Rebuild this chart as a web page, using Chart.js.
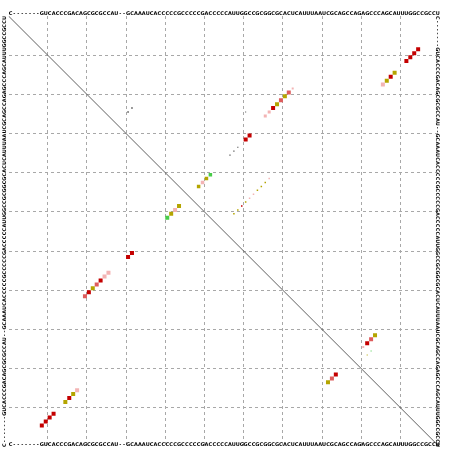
<!DOCTYPE html>
<html>
<head>
<meta charset="utf-8">
<script src="https://cdn.jsdelivr.net/npm/chart.js"></script>
<style>
  html, body { margin: 0; padding: 0; background: #fff; }
</style>
</head>
<body>
<canvas id="dotplot" width="452" height="451"></canvas>
<script>
// consensus sequence of the alignment, '-' marks a gap column
const sequence = "C-------GUCACCCGACAGCGCGCCAU--GCAAAUCACCCCCGCCCCCGACCCCCAUUGGCCGCGGCGCACUCAUUUAAUCGCAGCCAGAGCCCAGCAUUUGGCCGCCU";

// upper triangle: pair probabilities (row i, column j)
const probI    = [9, 10, 11, 12, 15, 16, 17, 18, 19, 20, 21, 22, 23, 24, 25, 26, 24, 25, 31, 32, 34, 35, 36, 41, 42, 43, 44,
                  42, 43, 44, 45, 46, 47, 48, 49, 50, 51, 82, 83, 84, 85, 86, 87, 25];
const probJ    = [105, 104, 103, 102, 99, 98, 97, 96, 73, 72, 71, 70, 69, 68, 67, 66, 32, 31, 62, 61, 59, 58, 57, 52, 51, 50, 49,
                  67, 66, 65, 64, 63, 62, 61, 60, 59, 58, 94, 93, 92, 91, 93, 92, 61];
const probSize = [4, 4, 4, 4, 4, 4, 4, 4, 2, 4, 4, 4, 4, 4, 3, 3, 1.5, 1.5, 4, 4, 1.2, 1.2, 1.2, 3.5, 3.5, 3.5, 3.5,
                  1.5, 1.5, 1.5, 1.5, 1.5, 1.5, 1.5, 1.5, 1.5, 1.5, 4, 4, 4, 2, 1, 1, 1];
const probType = ["red", "red", "red", "red", "ochre", "red", "ochre", "pink", "pink", "rose", "ochre", "rose", "ochre", "red", "pink", "pink",
                  "dark", "dark", "red", "red", "dark", "dark", "dark", "green", "ochre", "pink", "ochre",
                  "pink", "ochre", "ochre", "ochre", "pink", "pink", "ochre", "red", "ochre", "ochre",
                  "ochre", "rose", "red", "pink", "green", "ochre", "dark"];

// lower triangle: minimum free energy structure (column i, row j)
const mfeI    = [9, 10, 11, 12, 15, 16, 17, 18, 20, 21, 22, 23, 24, 25, 26, 31, 32, 41, 42, 43, 44, 82, 83, 84];
const mfeJ    = [105, 104, 103, 102, 99, 98, 97, 96, 72, 71, 70, 69, 68, 67, 66, 62, 61, 52, 51, 50, 49, 94, 93, 92];
const mfeType = ["red", "red", "red", "red", "ochre", "red", "ochre", "pink", "rose", "red", "ochre", "rose", "red", "pink", "pink",
                 "red", "red", "green", "ochre", "pink", "ochre", "ochre", "rose", "red"];

const palette = {
  red: "#c40000",
  rose: "#de5c5c",
  pink: "#f3b4b4",
  ochre: "#b4a500",
  green: "#48cc48",
  dark: "#505050"
};

const n = sequence.length;
const tickValues = [10, 20, 30, 40, 50, 60, 70, 80, 90, 100].map(v => v + 0.5);

// side of a 'rect' point is radius * sqrt(2)
const radiusFor = side => side / Math.SQRT2;

const seqLabels = {
  id: "seqLabels",
  afterDraw(chart) {
    const { ctx, chartArea, scales } = chart;
    const x = scales.x, y = scales.y;
    ctx.save();
    ctx.fillStyle = "#000";
    ctx.font = "bold 5px 'DejaVu Sans'";
    ctx.textAlign = "center";
    ctx.textBaseline = "middle";
    for (let i = 1; i <= n; i++) {
      const ch = sequence[i - 1];
      const px = x.getPixelForValue(i);
      ctx.fillText(ch, px, chartArea.top - 2.5);
      ctx.fillText(ch, px, chartArea.bottom - 2);
      ctx.save();
      ctx.translate(chartArea.right - 2.2, y.getPixelForValue(i));
      ctx.rotate(Math.PI / 2);
      ctx.fillText(ch, 0, 0);
      ctx.restore();
      ctx.save();
      ctx.translate(chartArea.left - 3.5, y.getPixelForValue(n + 1 - i));
      ctx.rotate(-Math.PI / 2);
      ctx.fillText(ch, 0, 0);
      ctx.restore();
    }
    ctx.restore();
  }
};

const gridScale = reverse => ({
  type: "linear",
  min: 0.5,
  max: n + 0.5,
  reverse: reverse,
  afterBuildTicks: scale => { scale.ticks = tickValues.map(v => ({ value: v })); },
  ticks: { display: false },
  grid: { color: "#a8a8a8", lineWidth: 1, drawTicks: false },
  border: { display: false, dash: [3, 3] }
});

new Chart(document.getElementById("dotplot"), {
  type: "scatter",
  data: {
    datasets: [
      {
        label: "diagonal",
        data: [{ x: 0.5, y: 0.5 }, { x: n + 0.5, y: n + 0.5 }],
        showLine: true,
        borderColor: "#606060",
        borderWidth: 1,
        pointRadius: 0
      },
      {
        label: "probabilities",
        data: probI.map((i, k) => ({ x: probJ[k], y: i })),
        pointStyle: "rect",
        pointRadius: probSize.map(radiusFor),
        pointBackgroundColor: probType.map(t => palette[t]),
        pointBorderWidth: 0
      },
      {
        label: "mfe",
        data: mfeI.map((i, k) => ({ x: i, y: mfeJ[k] })),
        pointStyle: "rect",
        pointRadius: radiusFor(4),
        pointBackgroundColor: mfeType.map(t => palette[t]),
        pointBorderWidth: 0
      }
    ]
  },
  options: {
    responsive: false,
    animation: false,
    layout: { padding: { left: 8.5, top: 16, right: 12.3, bottom: 3.8 } },
    plugins: { legend: { display: false }, tooltip: { enabled: false } },
    scales: { x: gridScale(false), y: gridScale(true) }
  },
  plugins: [seqLabels]
});
</script>
</body>
</html>
